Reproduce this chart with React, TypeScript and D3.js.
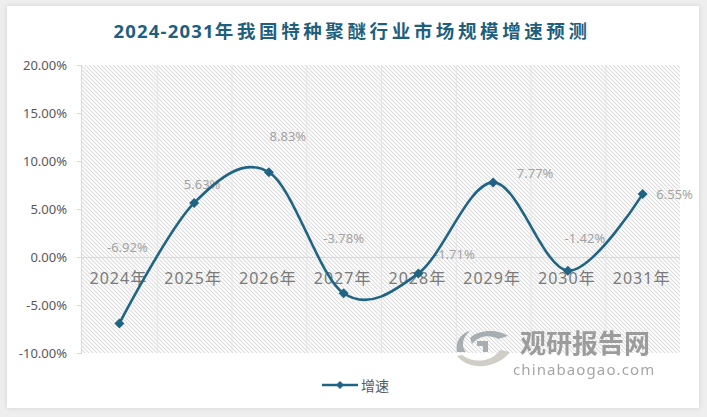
import { curveCatmullRom, line, scaleBand, scaleLinear, symbol, symbolSquare } from "d3";
import type { ReactElement } from "react";

const years = ["2024年", "2025年", "2026年", "2027年", "2028年", "2029年", "2030年", "2031年"];
const growth = [-6.92, 5.63, 8.83, -3.78, -1.71, 7.77, -1.42, 6.55];
const yTicks = [-10, -5, 0, 5, 10, 15, 20];

// data label nudges (Excel labels were moved by hand)
const labelOffsets: ReadonlyArray<[number, number]> = [
  [8, -76], [8, -19], [19, -36], [0, -55], [36, -19], [42, -9], [17, -33], [32, 0],
];

const W = 707;
const H = 417;
const PLOT = { left: 82, right: 680, top: 65, bottom: 353 };
const LINE_COLOR = "#1f6485";
const FONT = "'Noto Sans', 'Noto Sans CJK SC', sans-serif";
const CJK = "'Noto Sans CJK SC', sans-serif";

const fmt = (v: number): string => `${v.toFixed(2)}%`;

export default function App(): ReactElement {
  const x = scaleBand<string>().domain(years).range([PLOT.left, PLOT.right]);
  const y = scaleLinear().domain([-10, 20]).range([PLOT.bottom, PLOT.top]);
  const cx = (i: number): number => (x(years[i]) ?? 0) + x.bandwidth() / 2;

  const path = line<number>()
    .x((_, i) => cx(i))
    .y((d) => y(d))
    .curve(curveCatmullRom.alpha(0))(growth) ?? "";

  // square rotated 45° -> even diamond like Excel's marker
  const diamond = symbol(symbolSquare, 50)() ?? "";
  const legendDiamond = symbol(symbolSquare, 32)() ?? "";

  return (
    <svg
      width={W}
      height={H}
      style={{ position: "absolute", left: 0, top: 0 }}
      fontFamily={FONT}
    >
      <defs>
        <pattern id="hatch" width={4} height={4} patternUnits="userSpaceOnUse">
          <rect width={4} height={4} fill="#ffffff" />
          <path d="M-1,-1 L5,5 M-1,3 L1,5 M3,-1 L5,1" stroke="#dddddd" strokeWidth={1.1} />
        </pattern>
        <filter id="shadow" x="-5%" y="-5%" width="110%" height="110%">
          <feDropShadow dx={0} dy={0} stdDeviation={2.5} floodColor="#000" floodOpacity={0.12} />
        </filter>
      </defs>

      <rect width={W} height={H} fill="#eeeeee" />
      <rect x={7} y={6} width={692} height={402} fill="#ffffff" filter="url(#shadow)" />

      {/* title */}
      <text
        x={352}
        y={38}
        textAnchor="middle"
        fontSize={18.5}
        fontWeight={700}
        fill="#1e5f7e"
        fontFamily={CJK}
      >
        <tspan letterSpacing={1.2} fontFamily={FONT}>2024-2031</tspan>
        <tspan letterSpacing={3.6}>年我国特种聚醚行业市场规模增速预测</tspan>
      </text>

      {/* plot background */}
      <rect
        x={PLOT.left}
        y={PLOT.top}
        width={PLOT.right - PLOT.left}
        height={PLOT.bottom - PLOT.top}
        fill="url(#hatch)"
      />

      {/* vertical gridlines at category boundaries */}
      {years.slice(1).map((yr) => (
        <line
          key={yr}
          x1={(x(yr) ?? 0) + 0.5}
          x2={(x(yr) ?? 0) + 0.5}
          y1={PLOT.top}
          y2={PLOT.bottom}
          stroke="#e4e4e4"
          strokeWidth={1}
        />
      ))}

      {/* y axis */}
      <line x1={81.5} x2={81.5} y1={PLOT.top} y2={PLOT.bottom} stroke="#d9d9d9" />
      {yTicks.map((t) => (
        <g key={t}>
          <line x1={77} x2={82} y1={y(t) + 0.5} y2={y(t) + 0.5} stroke="#d9d9d9" />
          <text
            x={67}
            y={y(t)}
            textAnchor="end"
            dominantBaseline="central"
            fontSize={13}
            fill="#595959"
          >
            {fmt(t)}
          </text>
        </g>
      ))}

      {/* zero line */}
      <line
        x1={PLOT.left}
        x2={PLOT.right}
        y1={y(0) + 0.5}
        y2={y(0) + 0.5}
        stroke="#d9d9d9"
        strokeWidth={1}
      />

      {/* category labels */}
      {years.map((yr, i) => (
        <text
          key={yr}
          x={cx(i) - 1}
          y={y(0) + 21}
          textAnchor="middle"
          dominantBaseline="central"
          fontSize={16}
          letterSpacing={1}
          fill="#7a7a7a"
        >
          {yr}
        </text>
      ))}

      {/* watermark */}
      <g opacity={0.85}>
        <path
          d="M470,338 C480,328 500,330 508,336 L498,339 C490,334 478,336 472,344 Z"
          fill="#9aa3a8"
        />
        <path
          d="M457,352 C455,340 462,333 470,331 C462,338 461,346 466,352 Z"
          fill="#9aa3a8"
        />
        <path
          d="M457,356 C470,372 498,368 510,352 L500,350 C492,362 474,364 462,355 Z"
          fill="#c9c6bd"
        />
        <path d="M477,341 L488,341 L488,352 L483,352 L483,346 L477,346 Z" fill="#9aa3a8" />
        <text x={520} y={341} dominantBaseline="central" fontSize={26} fontWeight={700} fill="#8d8d8d" fontFamily={CJK}>
          观研报告网
        </text>
        <text x={513} y={369} dominantBaseline="central" fontSize={15} letterSpacing={1.1} fill="#969696">
          chinabaogao.com
        </text>
      </g>

      {/* data labels */}
      {growth.map((v, i) => (
        <text
          key={`lbl-${i}`}
          x={cx(i) + labelOffsets[i][0]}
          y={y(v) + labelOffsets[i][1]}
          textAnchor="middle"
          dominantBaseline="central"
          fontSize={13}
          fill="#a3a3a3"
        >
          {fmt(v)}
        </text>
      ))}

      {/* series */}
      <path d={path} fill="none" stroke={LINE_COLOR} strokeWidth={2.6} />
      {growth.map((v, i) => (
        <path
          key={`m-${i}`}
          d={diamond}
          transform={`translate(${cx(i)},${y(v)}) rotate(45)`}
          fill={LINE_COLOR}
        />
      ))}

      {/* legend */}
      <line x1={322} x2={358} y1={385} y2={385} stroke={LINE_COLOR} strokeWidth={2.6} />
      <path d={legendDiamond} transform="translate(340,385) rotate(45)" fill={LINE_COLOR} />
      <text x={361} y={385} dominantBaseline="central" fontSize={14} fill="#595959" fontFamily={CJK}>
        增速
      </text>
    </svg>
  );
}
